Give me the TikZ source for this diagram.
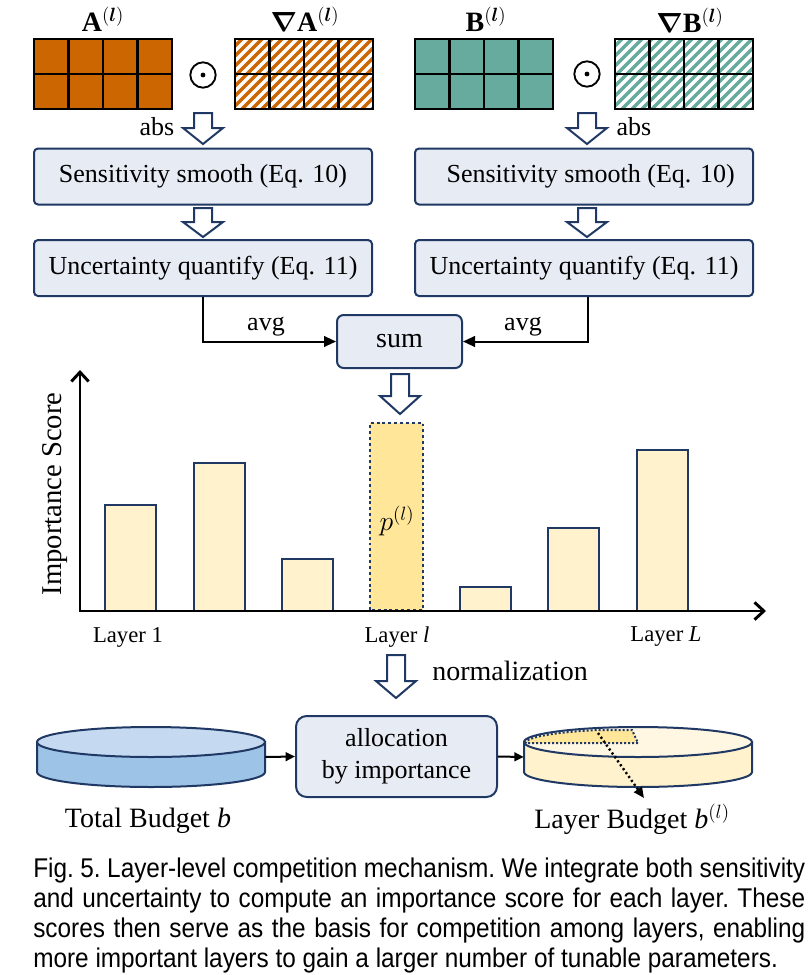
\documentclass[tikz,border=0pt]{standalone}
\usepackage{fontspec}
\setmainfont{Liberation Serif}
\newfontfamily\capfont[FakeStretch=0.9]{Liberation Sans}
\usepackage{bm}
\usetikzlibrary{arrows.meta}
\definecolor{navy}{RGB}{32,56,100}
\definecolor{orng}{RGB}{204,102,0}
\definecolor{tealc}{RGB}{103,171,159}
\definecolor{boxfill}{RGB}{231,235,243}
\definecolor{barfill}{RGB}{255,242,204}
\definecolor{barhi}{RGB}{255,230,153}
\definecolor{cyltop}{RGB}{197,218,240}
\definecolor{cylside}{RGB}{157,195,230}
\definecolor{ycyltop}{RGB}{255,247,226}
\definecolor{ycylside}{RGB}{255,242,204}
\newcommand\matgrid[2]{%
  \draw[black, line width=1.8pt] (#1,#2) rectangle (#1+138,#2+70)
    (#1+34.5,#2) -- (#1+34.5,#2+70) (#1+69,#2) -- (#1+69,#2+70)
    (#1+103.5,#2) -- (#1+103.5,#2+70) (#1,#2+35) -- (#1+138,#2+35);}
\newcommand\solidmat[3]{\fill[#3] (#1,#2) rectangle (#1+138,#2+70);\matgrid{#1}{#2}}
\newcommand\hatchmat[3]{%
  \begin{scope}
    \clip (#1,#2) rectangle (#1+138,#2+70);
    \fill[#3] (#1,#2) rectangle (#1+138,#2+70);
    \foreach \k in {-80,-70,...,150} \draw[white, line width=2.4pt] (#1+\k,#2+72) -- ++(74,-74);
  \end{scope}\matgrid{#1}{#2}}
\newcommand\blockarrow[4]{%
  \draw[navy, fill=white, line width=1.5pt, line join=miter]
    (#1-9,#2) -- (#1+9,#2) -- (#1+9,#3) -- (#1+20,#3) -- (#1,#4) -- (#1-20,#3) -- (#1-9,#3) -- cycle;}
\tikzset{
  procbox/.style={draw=navy, fill=boxfill, line width=1.5pt, rounded corners=3pt,
    minimum width=253.5pt, minimum height=42pt, inner sep=0pt, font=\fontsize{19.5}{23}\selectfont},
  lbl/.style={inner sep=0pt, font=\fontsize{19.5}{23}\selectfont},
  matlbl/.style={inner sep=0pt, font=\fontsize{21}{25}\selectfont},
  matnode/.style={inner sep=0pt, minimum width=103.5pt, minimum height=52.5pt},
  odotnode/.style={circle, draw=black, line width=1.4pt, minimum size=19pt, inner sep=0pt},
  conn/.style={line width=1.5pt, -{Triangle[length=9pt,width=8pt]}},
  barsty/.style={draw=navy, fill=barfill, line width=1.5pt},
  layerlbl/.style={inner sep=0pt, font=\fontsize{17}{20}\selectfont},
  bigtxt/.style={inner sep=0pt, font=\fontsize{21}{25}\selectfont},
  captxt/.style={inner sep=0pt, anchor=base west, font=\capfont\fontsize{20.3}{22}\selectfont\frenchspacing},
}
\begin{document}
\begin{tikzpicture}[x=0.75pt,y=-0.75pt]
\useasboundingbox (0,0) rectangle (811,975);
% matrices
\solidmat{34}{39}{orng}
\hatchmat{235}{39}{orng}
\solidmat{415}{39}{tealc}
\hatchmat{615}{39}{tealc}
\node[matnode] (A) at (103,74) {};
\node[matnode] (gA) at (304,74) {};
\node[matnode] (B) at (484,74) {};
\node[matnode] (gB) at (684,74) {};
\node[matlbl] (Alab) at (103,19) {$\mathbf{A}^{(\bm{l})}$};
\node[matlbl] (gAlab) at (305,19) {$\bm{\nabla}\mathbf{A}^{(\bm{l})}$};
\node[matlbl] (Blab) at (486,19) {$\mathbf{B}^{(\bm{l})}$};
\node[matlbl] (gBlab) at (690,20) {$\bm{\nabla}\mathbf{B}^{(\bm{l})}$};
\node[odotnode] (od1) at (203,75) {};
\fill (od1.center) circle[radius=1.8pt];
\node[odotnode] (od2) at (587,74) {};
\fill (od2.center) circle[radius=1.8pt];
% abs arrows
\blockarrow{203}{113}{128}{144}
\blockarrow{587}{113}{128}{144}
\node[lbl] (abs1) at (157,127) {abs};
\node[lbl] (abs2) at (634,127) {abs};
% process boxes
\node[procbox] (senL) at (203,176.5) {Sensitivity smooth (Eq. 10)};
\node[procbox] (senR) at (584,176.5) {\hspace*{10pt}Sensitivity smooth (Eq. 10)};
\blockarrow{203}{208}{222}{237}
\blockarrow{587}{208}{222}{237}
\node[procbox] (uncL) at (203,268) {Uncertainty quantify (Eq. 11)};
\node[procbox] (uncR) at (584,268) {Uncertainty quantify (Eq. 11)};
\node[procbox, rounded corners=5pt, minimum width=93.75pt, minimum height=39.75pt, font=\fontsize{21}{25}\selectfont] (sum) at (399.5,341.5) {sum};
\draw[conn] (uncL.south) |- (sum.west);
\draw[conn] ([xshift=3pt]uncR.south) |- (sum.east);
\node[lbl] (avg1) at (266,327) {avg};
\node[lbl] (avg2) at (523,327) {avg};
\blockarrow{400}{374}{396}{414}
% chart
\draw[barsty] (105,611) rectangle (156,505);
\draw[barsty] (194,611) rectangle (245,463);
\draw[barsty] (282,611) rectangle (333,559);
\draw[draw=navy, fill=barhi, line width=2.2pt, dash pattern=on 2.2pt off 2.2pt] (370,610) rectangle (423,423);
\draw[barsty] (460,611) rectangle (511,587);
\draw[barsty] (548,611) rectangle (599,528);
\draw[barsty] (637,611) rectangle (688,450);
\coordinate (ytop) at (80,370);
\coordinate (orig) at (80,611);
\coordinate (xend) at (766,611);
\draw[line width=2.2pt, line join=miter, {Straight Barb[length=7pt,width=13pt]}-{Straight Barb[length=7pt,width=13pt]}] (ytop) -- (orig) -- (xend);
\node[inner sep=0pt, font=\fontsize{22}{26}\selectfont] (pl) at (397,521) {$p^{(l)}$};
\node[inner sep=0pt, rotate=90, font=\fontsize{21.5}{25}\selectfont] (ylab) at (55,494) {Importance Score};
\node[layerlbl] (lay1) at (128,637) {Layer 1};
\node[layerlbl] (layl) at (397,637) {Layer \textit{l}};
\node[layerlbl] (layL) at (666,637) {Layer \textit{L}};
\blockarrow{396}{655}{681}{698}
\node[bigtxt] (norm) at (510,671) {normalization};
% total budget cylinder
\filldraw[fill=cylside, draw=navy, line width=1.5pt] (37,742) -- (37,772) arc[start angle=180, end angle=360, x radius=85.5pt, y radius=11.25pt] -- (265,742) -- cycle;
\filldraw[fill=cyltop, draw=navy, line width=1.5pt] (151,742) ellipse[x radius=85.5pt, y radius=11.25pt];
\node[inner sep=0pt, minimum width=171pt, minimum height=45pt] (tb) at (151,757) {};
% layer budget cylinder
\filldraw[fill=ycylside, draw=navy, line width=1.5pt] (524,742) -- (524,772) arc[start angle=180, end angle=360, x radius=85.5pt, y radius=11.25pt] -- (752,742) -- cycle;
\filldraw[fill=ycyltop, draw=navy, line width=1.5pt] (638,742) ellipse[x radius=85.5pt, y radius=11.25pt];
\filldraw[fill=barhi, draw=navy, line width=1.5pt, dash pattern=on 1.5pt off 1.5pt] (638,743) -- (525.5,743) arc[start angle=180, end angle=111, x radius=84.4pt, y radius=10.4pt] -- (632,730) -- cycle;
\node[inner sep=0pt, minimum width=171pt, minimum height=45pt] (lb) at (638,757) {};
\node[procbox, rounded corners=8pt, minimum width=150.75pt, minimum height=60.75pt, align=center, font=\fontsize{19.5}{23}\selectfont] (alloc) at (396.5,756.5) {allocation\\[1pt]by importance};
\draw[line width=1.5pt, -{Triangle[length=7pt,width=6.5pt]}] (tb.east) -- (alloc.west);
\draw[line width=1.5pt, -{Triangle[length=7pt,width=6.5pt]}] (alloc.east) -- (lb.west);
\coordinate (sectpt) at (598,733);
\coordinate (sectend) at (644,798);
\draw[line width=1.8pt, dash pattern=on 1.6pt off 2pt, -{Triangle[length=8pt,width=7pt]}] (sectpt) -- (sectend);
\node[bigtxt] (tblab) at (148,821) {Total Budget \textit{b}};
\node[bigtxt] (lblab) at (632,819) {Layer Budget \textit{b}$^{(l)}$};
% caption
\node[captxt] (cap1) at (33,877) {\makebox[579pt][s]{Fig. 5. Layer-level competition mechanism. We integrate both sensitivity}};
\node[captxt] (cap2) at (33,907) {\makebox[579pt][s]{and uncertainty to compute an importance score for each layer. These}};
\node[captxt] (cap3) at (33,937) {\makebox[579pt][s]{scores then serve as the basis for competition among layers, enabling}};
\node[captxt] (cap4) at (33,967) {more important layers to gain a larger number of tunable parameters.};
\end{tikzpicture}
\end{document}
